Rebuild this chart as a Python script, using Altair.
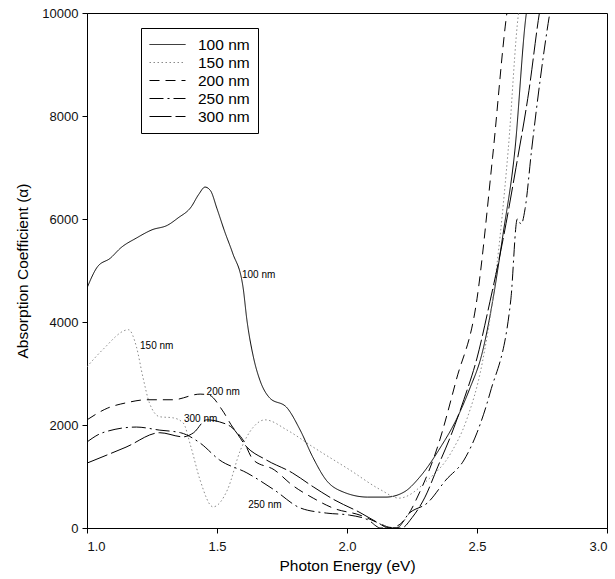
import altair as alt
import pandas as pd

series_names = ["100 nm", "150 nm", "200 nm", "250 nm", "300 nm"]

x_100 = [1.0, 1.04, 1.09, 1.13, 1.19, 1.25, 1.31, 1.35, 1.40, 1.43, 1.454, 1.475, 1.50, 1.53, 1.56, 1.60, 1.615, 1.64,
         1.665, 1.70, 1.77, 1.82, 1.87, 1.92, 1.985, 2.08, 2.15, 2.22, 2.28, 2.36, 2.42, 2.47, 2.52, 2.56,
         2.60, 2.645, 2.69, 2.70]
y_100 = [4660, 5070, 5240, 5440, 5630, 5790, 5880, 6020, 6230, 6480, 6620, 6550, 6200, 5750, 5340, 4680, 4040, 3320,
         2870, 2540, 2330, 1900, 1360, 930, 700, 600, 600, 700, 990, 1570, 2100, 2680, 3400, 4400,
         5700, 7300, 10000, 10300]

x_150 = [1.0, 1.06, 1.16, 1.19, 1.215, 1.24, 1.28, 1.33, 1.37, 1.40, 1.435, 1.485, 1.54, 1.59, 1.64, 1.685,
         1.77, 1.87, 2.01, 2.13, 2.20, 2.31, 2.40, 2.46, 2.52, 2.56, 2.62, 2.66, 2.67]
y_150 = [3130, 3460, 3850, 3520, 2930, 2430, 2160, 2140, 2040, 1570, 930, 410, 740, 1510, 1960, 2100,
         1900, 1570, 1130, 740, 580, 930, 1460, 2100, 3200, 4430, 7340, 10000, 10300]

x_200 = [1.0, 1.08, 1.15, 1.23, 1.33, 1.435, 1.47, 1.52, 1.56, 1.60, 1.64, 1.72, 1.79, 1.87, 1.95, 2.05,
         2.12, 2.17, 2.22, 2.28, 2.35, 2.42, 2.50, 2.56, 2.615, 2.63]
y_200 = [2100, 2330, 2430, 2490, 2490, 2600, 2580, 2290, 1960, 1710, 1320, 1130, 830, 580, 380, 250,
         100, 10, 150, 700, 1600, 2870, 4450, 7200, 10000, 10500]

x_250 = [1.0, 1.06, 1.19, 1.28, 1.36, 1.435, 1.51, 1.615, 1.72, 1.82, 1.92, 2.01, 2.08, 2.13, 2.19, 2.24,
         2.31, 2.38, 2.45, 2.50, 2.55, 2.63, 2.655, 2.67, 2.685, 2.71, 2.78, 2.79]
y_250 = [1670, 1850, 1960, 1900, 1850, 1650, 1320, 1070, 740, 390, 290, 250, 160, 0, 0, 290,
         490, 930, 1320, 1850, 2620, 4430, 6000, 5900, 6200, 7340, 10000, 10300]

x_300 = [1.0, 1.15, 1.28, 1.37, 1.41, 1.46, 1.51, 1.56, 1.615, 1.69, 1.79, 1.87, 1.95, 2.05, 2.12, 2.16,
         2.21, 2.25, 2.30, 2.35, 2.40, 2.45, 2.50, 2.55, 2.60, 2.65, 2.70, 2.74, 2.75]
y_300 = [1260, 1570, 1850, 1770, 1850, 2100, 2060, 1940, 1570, 1320, 1070, 800, 550, 300, 100, 0,
         0, 200, 600, 1200, 1800, 2500, 3300, 4400, 5600, 7000, 8500, 10000, 10300]

label_text = ["100 nm", "150 nm", "200 nm", "300 nm", "250 nm"]
label_x = [1.596, 1.204, 1.46, 1.373, 1.62]
label_y = [4910, 3530, 2640, 2120, 450]

xs = [x_100, x_150, x_200, x_250, x_300]
ys = [y_100, y_150, y_200, y_250, y_300]
rows = []
for name, xv, yv in zip(series_names, xs, ys):
    for i, (a, b) in enumerate(zip(xv, yv)):
        rows.append({"series": name, "x": a, "y": b, "i": i})
df = pd.DataFrame(rows)
lab = pd.DataFrame({"x": label_x, "y": label_y, "t": label_text})

xscale = alt.Scale(domain=[1.0, 3.0], nice=False, zero=False)
yscale = alt.Scale(domain=[0, 10000], nice=False)

lines = alt.Chart(df).mark_line(clip=True, strokeWidth=1, interpolate="monotone").encode(
    x=alt.X("x:Q", scale=xscale,
            axis=alt.Axis(title="Photon Energy (eV)", values=[1.0, 1.5, 2.0, 2.5, 3.0], format=".1f",
                          labelPadding=7, titlePadding=5)),
    y=alt.Y("y:Q", scale=yscale,
            axis=alt.Axis(title="Absorption Coefficient (α)", values=[0, 2000, 4000, 6000, 8000, 10000],
                          format="d", labelPadding=4, titlePadding=11)),
    color=alt.Color("series:N", scale=alt.Scale(domain=series_names,
                                                range=["black", "#8a8a8a", "black", "black", "black"]),
                    legend=alt.Legend(title=None)),
    strokeDash=alt.StrokeDash("series:N", scale=alt.Scale(domain=series_names,
                                                          range=[[1, 0], [1.5, 2.5], [10, 6], [14, 4, 2, 4], [22, 4]]),
                              legend=alt.Legend(title=None)),
    order="i:Q",
)

labels = alt.Chart(lab).mark_text(align="left", baseline="middle", fontSize=10, font="Liberation Sans",
                                  color="black").encode(
    x=alt.X("x:Q", scale=xscale),
    y=alt.Y("y:Q", scale=yscale),
    text="t:N",
)

chart = alt.layer(lines, labels).properties(
    width=520, height=515,
    autosize=alt.AutoSizeParams(type="none"),
    padding={"left": 87, "top": 13, "right": 8, "bottom": 51},
).configure_view(
    stroke="black", strokeWidth=1
).configure_axis(
    grid=False, domainColor="black", tickColor="black", tickSize=5,
    labelFont="Liberation Sans", labelFontSize=13, labelColor="#111",
    titleFont="Liberation Sans", titleFontSize=15.5, titleFontWeight="normal", titleColor="black",
).configure_legend(
    orient="none", legendX=54, legendY=15, strokeColor="black", fillColor="white", padding=8,
    labelFont="Liberation Sans", labelFontSize=15.5, labelColor="black", labelOffset=12,
    symbolType="stroke", symbolSize=1296, symbolStrokeWidth=1, rowPadding=1, clipHeight=17,
    labelLimit=200,
)

chart.save("out.html", embed_options={"renderer": "svg", "actions": False})
